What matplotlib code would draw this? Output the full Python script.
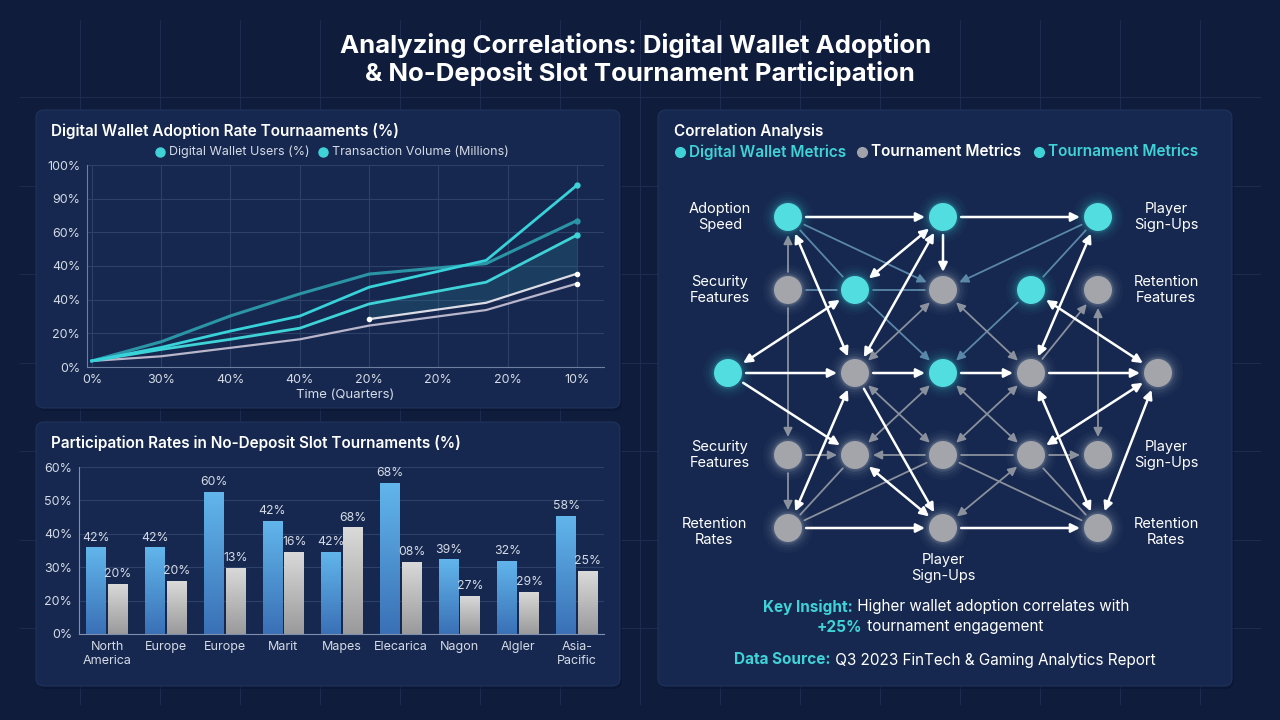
import numpy as np
import matplotlib
matplotlib.use("Agg")
import matplotlib.pyplot as plt
from matplotlib.patches import FancyBboxPatch, FancyArrowPatch, Circle
from matplotlib.colors import LinearSegmentedColormap

plt.rcParams['font.family'] = ['Inter', 'DejaVu Sans']

# ---- data: line chart (values in % of axis height) ----
quarter_labels = ['0%', '30%', '40%', '40%', '20%', '20%', '20%', '10%']
y_tick_labels = ['0%', '20%', '40%', '40%', '60%', '90%', '100%']
x_pts = [0, 1, 2, 3, 4, 5.69, 7]
wallet_users = [3, 9.7, 17.8, 25.2, 39.5, 52.8, 90]
wallet_trend = [3, 12.5, 25.3, 36.2, 46.0, 51.2, 72.5]
transaction_vol = [3, 8.7, 13.7, 19.2, 31.2, 42.0, 65.3]
tournament_trend = [23.7, 31.8, 46.2]
tournament_x = [4, 5.69, 7]
baseline = [3, 5.3, 9.5, 13.7, 20.5, 28.2, 41.3]

# ---- data: bar chart (values in % of axis height, 0-60) ----
regions = ['North\nAmerica', 'Europe', 'Europe', 'Marit', 'Mapes', 'Elecarica',
           'Nagon', 'Algler', 'Asia-\nPacific']
wallet_bar = [31.1, 31.1, 51.0, 40.7, 29.5, 54.4, 26.8, 26.3, 42.5]
tourn_bar = [18.0, 19.0, 23.8, 29.5, 38.4, 26.0, 13.7, 15.1, 22.6]
wallet_lbl = ['42%', '42%', '60%', '42%', '42%', '68%', '39%', '32%', '58%']
tourn_lbl = ['20%', '20%', '13%', '16%', '68%', '08%', '27%', '29%', '25%']
bar_ticks = ['0%', '20%', '30%', '40%', '50%', '60%']

# ---- data: network ----
node_kind = {
    'A1': 'teal', 'A2': 'teal', 'A3': 'teal',
    'B1': 'gray', 'B2': 'teal', 'B3': 'gray', 'B4': 'teal', 'B5': 'gray',
    'C0': 'teal', 'C1': 'gray', 'C2': 'teal', 'C3': 'gray', 'C4': 'gray',
    'D1': 'gray', 'D2': 'gray', 'D3': 'gray', 'D4': 'gray', 'D5': 'gray',
    'E1': 'gray', 'E2': 'gray', 'E3': 'gray',
}
# (from, to, style, arrow)
edges = [
    ('A1', 'A2', 'white', '-|>'), ('A2', 'A3', 'white', '-|>'),
    ('A2', 'B3', 'white', '-|>'), ('A1', 'C1', 'white', '<|-|>'),
    ('B2', 'A2', 'white', '<|-|>'), ('C1', 'A2', 'white', '<|-|>'),
    ('C0', 'B2', 'white', '<|-|>'), ('C0', 'C1', 'white', '-|>'),
    ('C1', 'C2', 'white', '-|>'), ('C2', 'C3', 'white', '-|>'),
    ('C3', 'C4', 'white', '-|>'), ('A3', 'C3', 'white', '<|-|>'),
    ('B4', 'C4', 'white', '<|-|>'), ('C0', 'D2', 'white', '-|>'),
    ('D2', 'E2', 'white', '<|-|>'), ('C1', 'E2', 'white', '-|>'),
    ('C1', 'E1', 'white', '<|-|>'), ('E1', 'E2', 'white', '-|>'),
    ('E2', 'E3', 'white', '-|>'), ('C3', 'E3', 'white', '<|-|>'),
    ('C4', 'D4', 'white', '<|-|>'), ('C4', 'E3', 'white', '<|-|>'),
    ('A1', 'B3', 'steel', '-|>'), ('A1', 'B2', 'steel', '-'),
    ('B2', 'C2', 'steel', '-|>'), ('A3', 'B3', 'steel', '-|>'),
    ('A3', 'B4', 'steel', '-'), ('B4', 'C2', 'steel', '-|>'),
    ('B2', 'B3', 'steel', '-'), ('B1', 'B2', 'steel', '-'),
    ('B1', 'A1', 'gray', '-|>'), ('B1', 'D1', 'gray', '-|>'),
    ('C1', 'B3', 'gray', '<|-|>'), ('B3', 'C3', 'gray', '<|-|>'),
    ('C3', 'B5', 'gray', '-|>'), ('B5', 'D5', 'gray', '<|-|>'),
    ('D1', 'D2', 'gray', '-|>'), ('D3', 'D2', 'gray', '-|>'),
    ('D3', 'D4', 'gray', '-'), ('D4', 'D5', 'gray', '-|>'),
    ('D1', 'E1', 'gray', '-|>'), ('C1', 'D3', 'gray', '<|-|>'),
    ('C2', 'D2', 'gray', '<|-|>'), ('C2', 'D4', 'gray', '<|-|>'),
    ('C3', 'D3', 'gray', '<|-|>'), ('D2', 'E1', 'gray', '-'),
    ('D3', 'E1', 'gray', '-'), ('D3', 'E3', 'gray', '-'),
    ('D4', 'E2', 'gray', '<|-|>'), ('D4', 'E3', 'gray', '-'),
]

BG = '#0f1c3b'
PANEL = '#16284f'
TEAL = '#3fd3d8'
TXT = '#d5dbe6'

fig = plt.figure(figsize=(12.8, 7.2), dpi=100, facecolor=BG)

# full figure overlay in pixel coordinates
bg = fig.add_axes([0, 0, 1, 1])
bg.set_xlim(0, 1280)
bg.set_ylim(720, 0)
bg.axis('off')
bg.set_facecolor(BG)

# background grid
for gx in np.arange(80, 1260, 80):
    bg.plot([gx, gx], [20, 704], color='#1d2c4e', lw=0.8, zorder=0)
for gy in np.arange(97, 700, 88.5):
    bg.plot([20, 1260], [gy, gy], color='#1d2c4e', lw=0.8, zorder=0)

# panels
for (x0, y0, x1, y1) in [(36, 110, 620, 408), (36, 422, 620, 686), (658, 110, 1232, 686)]:
    bg.add_patch(FancyBboxPatch((x0 + 2, y0 + 3), x1 - x0, y1 - y0,
                                boxstyle='round,pad=0,rounding_size=8',
                                fc='#0a1430', ec='none', alpha=0.5, zorder=1))
    bg.add_patch(FancyBboxPatch((x0, y0), x1 - x0, y1 - y0,
                                boxstyle='round,pad=0,rounding_size=8',
                                fc=PANEL, ec='#1f335c', lw=0.8, zorder=1))

bg.text(636, 45, 'Analyzing Correlations: Digital Wallet Adoption', ha='center', va='center',
        color='white', fontsize=18.5, fontweight='bold')
bg.text(640, 74, '& No-Deposit Slot Tournament Participation', ha='center', va='center',
        color='white', fontsize=18.5, fontweight='bold')

# panel titles
bg.text(51, 131, 'Digital Wallet Adoption Rate Tournaaments (%)', ha='left', va='center',
        color='white', fontsize=11, fontweight='semibold')
bg.text(51, 443, 'Participation Rates in No-Deposit Slot Tournaments (%)', ha='left', va='center',
        color='white', fontsize=11, fontweight='semibold')
bg.text(674, 131, 'Correlation Analysis', ha='left', va='center',
        color='white', fontsize=11, fontweight='semibold')

# legend for line chart
bg.plot([160], [152], 'o', color=TEAL, ms=6.5)
bg.text(169, 152, 'Digital Wallet Users (%)', ha='left', va='center', color=TXT, fontsize=9)
bg.plot([323], [152], 'o', color=TEAL, ms=6.5)
bg.text(332, 152, 'Transaction Volume (Millions)', ha='left', va='center', color=TXT, fontsize=9)

# legend for network
bg.plot([680], [152], 'o', color=TEAL, ms=7)
bg.text(689, 152, 'Digital Wallet Metrics', ha='left', va='center', color=TEAL, fontsize=11,
        fontweight='semibold')
bg.plot([862], [152], 'o', color='#a0a3aa', ms=7)
bg.text(871, 152, 'Tournament Metrics', ha='left', va='center', color='white', fontsize=11,
        fontweight='semibold')
bg.plot([1039], [152], 'o', color=TEAL, ms=7)
bg.text(1048, 152, 'Tournament Metrics', ha='left', va='center', color=TEAL, fontsize=11,
        fontweight='semibold')

# ---------------- line chart ----------------
ax1 = fig.add_axes([87 / 1280, (720 - 367) / 720, 517 / 1280, 202 / 720])
ax1.set_facecolor('none')
ax1.set_xlim(-0.07, 7.39)
ax1.set_ylim(0, 100)
ax1.set_yticks(np.linspace(0, 100, 7))
ax1.set_yticklabels(y_tick_labels)
ax1.set_xticks(range(8))
ax1.set_xticklabels(quarter_labels)
ax1.grid(True, color='#2c4068', lw=0.8)
ax1.set_axisbelow(True)
for s in ['top', 'right']:
    ax1.spines[s].set_visible(False)
for s in ['left', 'bottom']:
    ax1.spines[s].set_color('#6f7f9f')
ax1.tick_params(colors=TXT, labelsize=9, length=0, pad=5)
ax1.set_xlabel('Time (Quarters)', color=TXT, fontsize=9.5, labelpad=2)

t4 = np.interp(tournament_x, x_pts, transaction_vol)
ax1.fill_between(tournament_x, tournament_trend, t4, color='#2f8aa0', alpha=0.22, lw=0)
ax1.plot(x_pts, baseline, color='#b9b6cc', lw=1.6)
ax1.plot(tournament_x, tournament_trend, color='#dcdce6', lw=1.6)
ax1.plot(x_pts, wallet_trend, color='#2b95a6', lw=2.2)
ax1.plot(x_pts, transaction_vol, color=TEAL, lw=2)
ax1.plot(x_pts, wallet_users, color='#38d2da', lw=2)
ax1.plot([x_pts[-1]], [wallet_users[-1]], 'o', color=TEAL, ms=3.5)
ax1.plot([x_pts[-1]], [wallet_trend[-1]], 'o', color='#2b95a6', ms=3.5)
ax1.plot([x_pts[-1]], [transaction_vol[-1]], 'o', color=TEAL, ms=3.5)
ax1.plot([tournament_x[0], tournament_x[-1]], [tournament_trend[0], tournament_trend[-1]],
         'o', color='white', ms=3)
ax1.plot([x_pts[-1]], [baseline[-1]], 'o', color='white', ms=3)

# ---------------- bar chart ----------------
ax2 = fig.add_axes([79 / 1280, (720 - 634) / 720, 525 / 1280, 167 / 720])
ax2.set_facecolor('none')
xs = np.arange(len(regions))
w = 0.34
b1 = ax2.bar(xs - 0.185, wallet_bar, w, color='#4a90d4', zorder=2)
b2 = ax2.bar(xs + 0.185, tourn_bar, w, color='#b8b8b8', zorder=2)
grad = np.linspace(1, 0, 256).reshape(-1, 1)
cm_blue = LinearSegmentedColormap.from_list('b', ['#3a70b6', '#62b6ec'])
cm_gray = LinearSegmentedColormap.from_list('g', ['#9a9a9c', '#dadada'])
for bars, cm in [(b1, cm_blue), (b2, cm_gray)]:
    for bar in bars:
        x0, h = bar.get_x(), bar.get_height()
        im = ax2.imshow(grad, extent=[x0, x0 + bar.get_width(), 0, h], cmap=cm,
                        aspect='auto', zorder=2, vmin=0, vmax=1)
        im.set_clip_path(bar)
        bar.set_facecolor('none')
for bar, lbl in zip(b1, wallet_lbl):
    ax2.text(bar.get_x() + bar.get_width() / 2, bar.get_height() + 1.3, lbl,
             ha='center', va='bottom', color=TXT, fontsize=8.8)
for bar, lbl in zip(b2, tourn_lbl):
    ax2.text(bar.get_x() + bar.get_width() / 2, bar.get_height() + 1.3, lbl,
             ha='center', va='bottom', color=TXT, fontsize=8.8)
ax2.set_xlim(-0.48, 8.46)
ax2.set_ylim(0, 60)
ax2.set_yticks(np.linspace(0, 60, 6))
ax2.set_yticklabels(bar_ticks)
ax2.set_xticks(xs)
ax2.set_xticklabels(regions, linespacing=1.2)
ax2.yaxis.grid(True, color='#2c4068', lw=0.8)
ax2.set_axisbelow(True)
for s in ['top', 'right']:
    ax2.spines[s].set_visible(False)
for s in ['left', 'bottom']:
    ax2.spines[s].set_color('#7f8fae')
ax2.tick_params(colors=TXT, labelsize=9, length=0, pad=5)

# ---------------- network ----------------
col_x = {'0': 728, '1': 788, '2': 855, '3': 943, '4': 1031, '5': 1098, '6': 1158}
row_y = {'A': 217, 'B': 290, 'C': 373, 'D': 455, 'E': 528}
col_of = {'A1': '1', 'A2': '3', 'A3': '5',
          'B1': '1', 'B2': '2', 'B3': '3', 'B4': '4', 'B5': '5',
          'C0': '0', 'C1': '2', 'C2': '3', 'C3': '4', 'C4': '6',
          'D1': '1', 'D2': '2', 'D3': '3', 'D4': '4', 'D5': '5',
          'E1': '1', 'E2': '3', 'E3': '5'}
pos = {n: (col_x[col_of[n]], row_y[n[0]]) for n in node_kind}

edge_style = {'white': ('#ffffff', 1.8, 4), 'steel': ('#5a87a8', 1.3, 3), 'gray': ('#8a909c', 1.3, 3)}
for a, b, st, arr in edges:
    c, lw, z = edge_style[st]
    p = FancyArrowPatch(pos[a], pos[b], arrowstyle=arr, mutation_scale=13, color=c, lw=lw,
                        shrinkA=13, shrinkB=13, zorder=z)
    bg.add_patch(p)

for n, kind in node_kind.items():
    x, y = pos[n]
    fc = '#52dde0' if kind == 'teal' else '#a3a5ab'
    gc = '#3fd3d8' if kind == 'teal' else '#c8cedb'
    for r, a in [(25, 0.03), (22, 0.04), (19.5, 0.06), (17, 0.09), (15.5, 0.12)]:
        bg.add_patch(Circle((x, y), r, fc=gc, ec='none', alpha=a, zorder=5))
    bg.add_patch(Circle((x, y), 14, fc=fc, ec='none', zorder=6))

node_labels = [
    (720, 217, 'Adoption\nSpeed'), (1166, 217, 'Player\nSign-Ups'),
    (720, 290, 'Security\nFeatures'), (1166, 290, 'Retention\nFeatures'),
    (720, 455, 'Security\nFeatures'), (1166, 455, 'Player\nSign-Ups'),
    (714, 532, 'Retention\nRates'), (1166, 532, 'Retention\nRates'),
    (943, 568, 'Player\nSign-Ups'),
]
for x, y, t in node_labels:
    bg.text(x, y, t, ha='center', va='center', color='white', fontsize=10.5, linespacing=1.25)


def mixed_line(xc, y, parts, size=11):
    renderer = fig.canvas.get_renderer()
    texts = []
    for s, c, wt in parts:
        texts.append(bg.text(0, y, s, ha='left', va='center', color=c, fontsize=size,
                             fontweight=wt))
    widths = [t.get_window_extent(renderer).width for t in texts]
    x = xc - sum(widths) / 2
    for t, wd in zip(texts, widths):
        t.set_x(x)
        x += wd


mixed_line(946, 607, [('Key Insight:', TEAL, 'bold'),
                      (' Higher wallet adoption correlates with', 'white', 'normal')])
mixed_line(930, 627, [('+25%', TEAL, 'bold'), (' tournament engagement', 'white', 'normal')])
mixed_line(945, 660, [('Data Source:', TEAL, 'bold'),
                      (' Q3 2023 FinTech & Gaming Analytics Report', 'white', 'normal')])

fig.savefig('out.png', dpi=100, facecolor=BG)
